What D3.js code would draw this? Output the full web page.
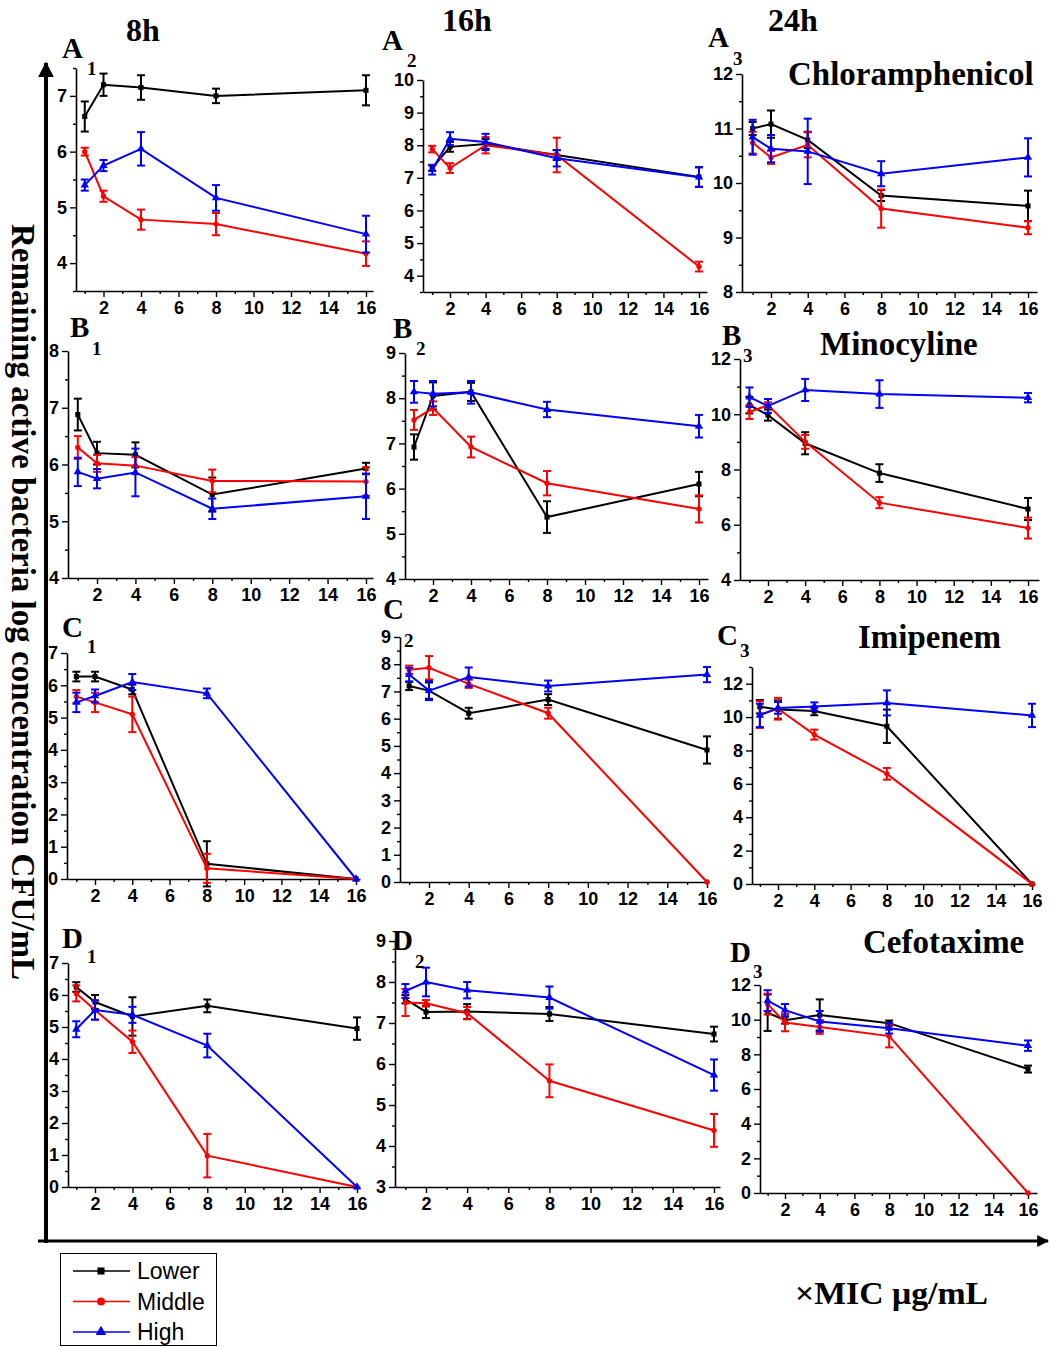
<!DOCTYPE html>
<html>
<head>
<meta charset="utf-8">
<script src="https://cdn.jsdelivr.net/npm/d3@7"></script>
<style>
  body { margin: 0; background: #fff; }
  svg { display: block; }
</style>
</head>
<body>
<script>
// ---- data ----
const doses = [1, 2, 4, 8, 16];
const xTicks = [2, 4, 6, 8, 10, 12, 14, 16];
const seriesNames = ["Lower", "Middle", "High"];
const seriesColors = ["#000000", "#ff0000", "#0000ff"];
const timeLabels = ["8h", "16h", "24h"];
const drugNames = ["Chloramphenicol", "Minocyline", "Imipenem", "Cefotaxime"];
const rowLetters = ["A", "B", "C", "D"];

// mean log CFU/mL per series (Lower, Middle, High) at each dose
const valuesA1 = [[6.63, 7.2, 7.15, 7.0, 7.1], [6.0, 5.2, 4.78, 4.7, 4.17], [5.4, 5.75, 6.05, 5.17, 4.52]];
const errorsA1 = [[0.27, 0.2, 0.22, 0.13, 0.27], [0.07, 0.1, 0.18, 0.2, 0.22], [0.1, 0.1, 0.3, 0.23, 0.33]];
const valuesA2 = [[7.3, 7.95, 8.04, 7.7, 7.03], [7.88, 7.3, 8.0, 7.7, 4.28], [7.25, 8.2, 8.1, 7.6, 7.02]];
const errorsA2 = [[0.08, 0.15, 0.15, 0.15, 0.3], [0.1, 0.15, 0.25, 0.53, 0.15], [0.15, 0.2, 0.25, 0.25, 0.3]];
const valuesA3 = [[11.0, 11.08, 10.79, 9.77, 9.58], [10.74, 10.47, 10.7, 9.53, 9.18], [10.84, 10.63, 10.58, 10.17, 10.47]];
const errorsA3 = [[0.12, 0.25, 0.15, 0.1, 0.28], [0.2, 0.12, 0.23, 0.35, 0.12], [0.32, 0.25, 0.6, 0.23, 0.35]];

const valuesB1 = [[6.88, 6.2, 6.17, 5.47, 5.93], [6.3, 6.02, 5.98, 5.71, 5.7], [5.87, 5.75, 5.86, 5.22, 5.44]];
const errorsB1 = [[0.28, 0.2, 0.22, 0.3, 0.1], [0.2, 0.15, 0.15, 0.2, 0.25], [0.25, 0.17, 0.42, 0.18, 0.4]];
const valuesB2 = [[6.92, 8.05, 8.14, 5.37, 6.1], [7.52, 7.78, 6.92, 6.12, 5.55], [8.14, 8.1, 8.13, 7.75, 7.38]];
const errorsB2 = [[0.28, 0.3, 0.2, 0.35, 0.27], [0.22, 0.15, 0.23, 0.27, 0.3], [0.24, 0.28, 0.25, 0.17, 0.25]];
const valuesB3 = [[10.33, 9.97, 8.95, 7.87, 6.57], [10.08, 10.33, 9.0, 6.8, 5.88], [10.62, 10.3, 10.88, 10.73, 10.6]];
const errorsB3 = [[0.3, 0.2, 0.4, 0.32, 0.4], [0.25, 0.1, 0.25, 0.2, 0.38], [0.35, 0.25, 0.4, 0.5, 0.17]];

const valuesC1 = [[6.27, 6.27, 5.87, 0.47, 0], [5.65, 5.47, 5.1, 0.33, 0], [5.47, 5.67, 6.1, 5.75, 0]];
const errorsC1 = [[0.15, 0.15, 0.15, 0.7, 0], [0.2, 0.3, 0.55, 0.45, 0], [0.3, 0.2, 0.25, 0.15, 0]];
const valuesC2 = [[7.2, 7.03, 6.2, 6.7, 4.85], [7.8, 7.87, 7.28, 6.2, 0], [7.62, 7.03, 7.53, 7.2, 7.62]];
const errorsC2 = [[0.15, 0.3, 0.2, 0.2, 0.5], [0.15, 0.43, 0.15, 0.2, 0], [0.25, 0.35, 0.35, 0.2, 0.28]];
const valuesC3 = [[10.62, 10.45, 10.36, 9.45, 0], [10.15, 10.5, 8.95, 6.6, 0], [10.1, 10.55, 10.63, 10.85, 10.1]];
const errorsC3 = [[0.4, 0.55, 0.25, 1.0, 0], [0.8, 0.65, 0.3, 0.35, 0], [0.7, 0.35, 0.25, 0.75, 0.7]];

const valuesD1 = [[6.25, 5.78, 5.33, 5.66, 4.95], [6.05, 5.53, 4.54, 0.98, 0], [4.93, 5.53, 5.38, 4.42, 0]];
const errorsD1 = [[0.15, 0.22, 0.6, 0.2, 0.35], [0.25, 0.3, 0.35, 0.68, 0], [0.25, 0.3, 0.25, 0.37, 0]];
const valuesD2 = [[7.58, 7.27, 7.28, 7.22, 6.73], [7.5, 7.48, 7.24, 5.59, 4.38], [7.78, 8.0, 7.8, 7.62, 5.73]];
const errorsD2 = [[0.1, 0.15, 0.18, 0.17, 0.18], [0.33, 0.08, 0.15, 0.4, 0.4], [0.17, 0.35, 0.2, 0.27, 0.38]];
const valuesD3 = [[10.4, 9.97, 10.27, 9.8, 7.15], [10.9, 9.83, 9.58, 9.05, 0], [11.1, 10.55, 9.9, 9.5, 8.5]];
const errorsD3 = [[1.05, 0.2, 0.9, 0.15, 0.2], [0.6, 0.5, 0.4, 0.65, 0], [0.6, 0.35, 0.6, 0.3, 0.3]];

// y axis ticks and ranges
const yTicksA1 = [4, 5, 6, 7], yDomainA1 = [3.5, 7.5];
const yTicksA2 = [4, 5, 6, 7, 8, 9, 10], yDomainA2 = [3.5, 10];
const yTicksA3 = [8, 9, 10, 11, 12], yDomainA3 = [8, 12];
const yTicksB1 = [4, 5, 6, 7, 8], yDomainB1 = [4, 8];
const yTicksB2 = [4, 5, 6, 7, 8, 9], yDomainB2 = [4, 9];
const yTicksB3 = [4, 6, 8, 10, 12], yDomainB3 = [4, 12];
const yTicksC1 = [0, 1, 2, 3, 4, 5, 6, 7], yDomainC1 = [0, 7];
const yTicksC2 = [0, 1, 2, 3, 4, 5, 6, 7, 8, 9], yDomainC2 = [0, 9];
const yTicksC3 = [0, 2, 4, 6, 8, 10, 12], yDomainC3 = [0, 13];
const yTicksD1 = [0, 1, 2, 3, 4, 5, 6, 7], yDomainD1 = [0, 7];
const yTicksD2 = [3, 4, 5, 6, 7, 8, 9], yDomainD2 = [3, 9];
const yTicksD3 = [0, 2, 4, 6, 8, 10, 12], yDomainD3 = [0, 12];

// ---- layout (pixel geometry per panel) ----
// p2/p16: pixel of x=2 and x=16; left/right: x-axis ends; top/bottom: y-axis ends
const panels = [
  {row: 0, col: 0, v: valuesA1, e: errorsA1, ticks: yTicksA1, dom: yDomainA1, p2: 103.5, p16: 366, left: 76, right: 373, top: 68, bottom: 291, lx: 62, ly: 58, sx: 87, sy: 75},
  {row: 0, col: 1, v: valuesA2, e: errorsA2, ticks: yTicksA2, dom: yDomainA2, p2: 450, p16: 699, left: 423, right: 707, top: 80, bottom: 292, lx: 382, ly: 50, sx: 407, sy: 67},
  {row: 0, col: 2, v: valuesA3, e: errorsA3, ticks: yTicksA3, dom: yDomainA3, p2: 771, p16: 1028, left: 742, right: 1037, top: 74, bottom: 292, lx: 708, ly: 47, sx: 733, sy: 65},
  {row: 1, col: 0, v: valuesB1, e: errorsB1, ticks: yTicksB1, dom: yDomainB1, p2: 97, p16: 366, left: 68, right: 373, top: 351, bottom: 578, lx: 70, ly: 337, sx: 92, sy: 355},
  {row: 1, col: 1, v: valuesB2, e: errorsB2, ticks: yTicksB2, dom: yDomainB2, p2: 433, p16: 699, left: 405, right: 708, top: 353, bottom: 579, lx: 393, ly: 338, sx: 416, sy: 355},
  {row: 1, col: 2, v: valuesB3, e: errorsB3, ticks: yTicksB3, dom: yDomainB3, p2: 768, p16: 1028, left: 740, right: 1039, top: 359, bottom: 580, lx: 722, ly: 345, sx: 743, sy: 362},
  {row: 2, col: 0, v: valuesC1, e: errorsC1, ticks: yTicksC1, dom: yDomainC1, p2: 95, p16: 356, left: 67, right: 360, top: 653, bottom: 879, lx: 62, ly: 637, sx: 87, sy: 653},
  {row: 2, col: 1, v: valuesC2, e: errorsC2, ticks: yTicksC2, dom: yDomainC2, p2: 429, p16: 707, left: 400, right: 709, top: 637, bottom: 882, lx: 383, ly: 619, sx: 404, sy: 647},
  {row: 2, col: 2, v: valuesC3, e: errorsC3, ticks: yTicksC3, dom: yDomainC3, p2: 778, p16: 1032, left: 752, right: 1035, top: 667, bottom: 884, lx: 717, ly: 645, sx: 740, sy: 657},
  {row: 3, col: 0, v: valuesD1, e: errorsD1, ticks: yTicksD1, dom: yDomainD1, p2: 95, p16: 357, left: 68, right: 360, top: 963, bottom: 1187, lx: 62, ly: 948, sx: 87, sy: 963},
  {row: 3, col: 1, v: valuesD2, e: errorsD2, ticks: yTicksD2, dom: yDomainD2, p2: 426, p16: 714, left: 395, right: 720, top: 941, bottom: 1187, lx: 392, ly: 950, sx: 415, sy: 968},
  {row: 3, col: 2, v: valuesD3, e: errorsD3, ticks: yTicksD3, dom: yDomainD3, p2: 785, p16: 1028, left: 760, right: 1037, top: 985, bottom: 1193, lx: 730, ly: 962, sx: 753, sy: 978}
];
const drugPos = [[788, 85], [820, 355], [858, 648], [863, 953]];
const timePos = [[126, 41], [442, 31], [768, 31]];

const SERIF = "'Liberation Serif', 'Times New Roman', serif";
const SANS = "'Liberation Sans', Arial, sans-serif";

const svg = d3.select("body").append("svg")
  .attr("width", 1050)
  .attr("height", 1347);

// big framing arrows
svg.append("defs").append("marker")
  .attr("id", "head")
  .attr("viewBox", "0 0 10 10")
  .attr("refX", 9).attr("refY", 5)
  .attr("markerWidth", 4).attr("markerHeight", 4)
  .attr("markerUnits", "strokeWidth")
  .attr("orient", "auto")
  .append("path").attr("d", "M0,0 L10,5 L0,10 Z").attr("fill", "#000");

svg.append("line")
  .attr("x1", 46).attr("y1", 1243).attr("x2", 46).attr("y2", 63)
  .attr("stroke", "#000").attr("stroke-width", 4)
  .attr("marker-end", "url(#head)");
svg.append("line")
  .attr("x1", 38).attr("y1", 1241).attr("x2", 1048).attr("y2", 1241)
  .attr("stroke", "#000").attr("stroke-width", 3)
  .attr("marker-end", "url(#head)");

svg.append("text")
  .attr("transform", "translate(12,602) rotate(90)")
  .attr("text-anchor", "middle")
  .attr("font-family", SERIF).attr("font-weight", "bold").attr("font-size", 33)
  .text("Remaining active bacteria log concentration CFU/mL");

svg.append("text")
  .attr("x", 795).attr("y", 1304)
  .attr("font-family", SERIF).attr("font-weight", "bold").attr("font-size", 32)
  .attr("textLength", 193).attr("lengthAdjust", "spacingAndGlyphs")
  .text("×MIC μg/mL");

timeLabels.forEach((t, i) => {
  svg.append("text")
    .attr("x", timePos[i][0]).attr("y", timePos[i][1])
    .attr("font-family", SERIF).attr("font-weight", "bold").attr("font-size", 32)
    .text(t);
});
drugNames.forEach((d, i) => {
  svg.append("text")
    .attr("x", drugPos[i][0]).attr("y", drugPos[i][1])
    .attr("font-family", SERIF).attr("font-weight", "bold").attr("font-size", 33)
    .text(d);
});

const symbols = [d3.symbolSquare, d3.symbolCircle, d3.symbolTriangle];
const symbolSizes = [26, 22, 30];

panels.forEach(p => {
  const base = d3.scaleLinear().domain([2, 16]).range([p.p2, p.p16]);
  const x = d3.scaleLinear()
    .domain([base.invert(p.left), base.invert(p.right)])
    .range([p.left, p.right]);
  const y = d3.scaleLinear().domain(p.dom).range([p.bottom, p.top]);

  const g = svg.append("g");

  // x axis: major + minor ticks
  g.append("g")
    .attr("transform", "translate(0," + p.bottom + ")")
    .call(d3.axisBottom(x).tickValues(xTicks).tickFormat(d3.format("d"))
      .tickSize(6).tickSizeOuter(0).tickPadding(4));
  g.append("g")
    .attr("transform", "translate(0," + p.bottom + ")")
    .call(d3.axisBottom(x).tickValues(d3.range(1, 16, 2)).tickSize(3).tickFormat("").tickSizeOuter(0))
    .select(".domain").remove();

  // y axis
  const majorStep = p.ticks[1] - p.ticks[0];
  g.append("g")
    .attr("transform", "translate(" + p.left + ",0)")
    .call(d3.axisLeft(y).tickValues(p.ticks).tickFormat(d3.format("d"))
      .tickSize(6).tickSizeOuter(0).tickPadding(3));
  const minor = d3.range(p.dom[0], p.dom[1] + 1e-6, majorStep / 2)
    .filter(v => !p.ticks.some(t => Math.abs(t - v) < 1e-6));
  g.append("g")
    .attr("transform", "translate(" + p.left + ",0)")
    .call(d3.axisLeft(y).tickValues(minor).tickSize(3).tickFormat("").tickSizeOuter(0))
    .select(".domain").remove();

  g.selectAll(".domain").attr("stroke", "#000").attr("stroke-width", 1.6);
  g.selectAll(".tick line").attr("stroke", "#000").attr("stroke-width", 1.4);
  g.selectAll(".tick text")
    .attr("font-family", SANS).attr("font-weight", "bold").attr("font-size", 18).attr("fill", "#000");

  // series
  p.v.forEach((vals, si) => {
    const pts = doses.map((d, i) => ({x: d, y: vals[i], e: p.e[si][i]}));
    const col = seriesColors[si];
    g.append("path")
      .datum(pts)
      .attr("fill", "none").attr("stroke", col).attr("stroke-width", 2)
      .attr("d", d3.line().x(d => x(d.x)).y(d => y(d.y)));
    const eb = g.append("g").selectAll("g")
      .data(pts.filter(d => d.e > 0)).enter().append("g")
      .attr("stroke", col).attr("stroke-width", 2);
    eb.append("line")
      .attr("x1", d => x(d.x)).attr("x2", d => x(d.x))
      .attr("y1", d => y(d.y - d.e)).attr("y2", d => y(d.y + d.e));
    eb.append("line")
      .attr("x1", d => x(d.x) - 4).attr("x2", d => x(d.x) + 4)
      .attr("y1", d => y(d.y - d.e)).attr("y2", d => y(d.y - d.e));
    eb.append("line")
      .attr("x1", d => x(d.x) - 4).attr("x2", d => x(d.x) + 4)
      .attr("y1", d => y(d.y + d.e)).attr("y2", d => y(d.y + d.e));
    g.append("g").selectAll("path")
      .data(pts).enter().append("path")
      .attr("transform", d => "translate(" + x(d.x) + "," + y(d.y) + ")")
      .attr("d", d3.symbol().type(symbols[si]).size(symbolSizes[si]))
      .attr("fill", col);
  });

  // panel label like A with subscript 1
  svg.append("text")
    .attr("x", p.lx).attr("y", p.ly)
    .attr("font-family", SERIF).attr("font-weight", "bold").attr("font-size", 29)
    .text(rowLetters[p.row]);
  svg.append("text")
    .attr("x", p.sx).attr("y", p.sy)
    .attr("font-family", SERIF).attr("font-weight", "bold").attr("font-size", 19)
    .text(p.col + 1);
});

// legend
const legend = svg.append("g");
legend.append("rect")
  .attr("x", 60.5).attr("y", 1253.5).attr("width", 156).attr("height", 92)
  .attr("fill", "#fff").attr("stroke", "#000").attr("stroke-width", 1);
seriesNames.forEach((name, i) => {
  const ly = 1271 + i * 30.5;
  legend.append("line")
    .attr("x1", 73).attr("x2", 130).attr("y1", ly).attr("y2", ly)
    .attr("stroke", seriesColors[i]).attr("stroke-width", 1.5);
  legend.append("path")
    .attr("transform", "translate(101," + ly + ")")
    .attr("d", d3.symbol().type(symbols[i]).size(50))
    .attr("fill", seriesColors[i]);
  legend.append("text")
    .attr("x", 137).attr("y", ly + 8)
    .attr("font-family", SANS).attr("font-size", 23)
    .text(name);
});
</script>
</body>
</html>
